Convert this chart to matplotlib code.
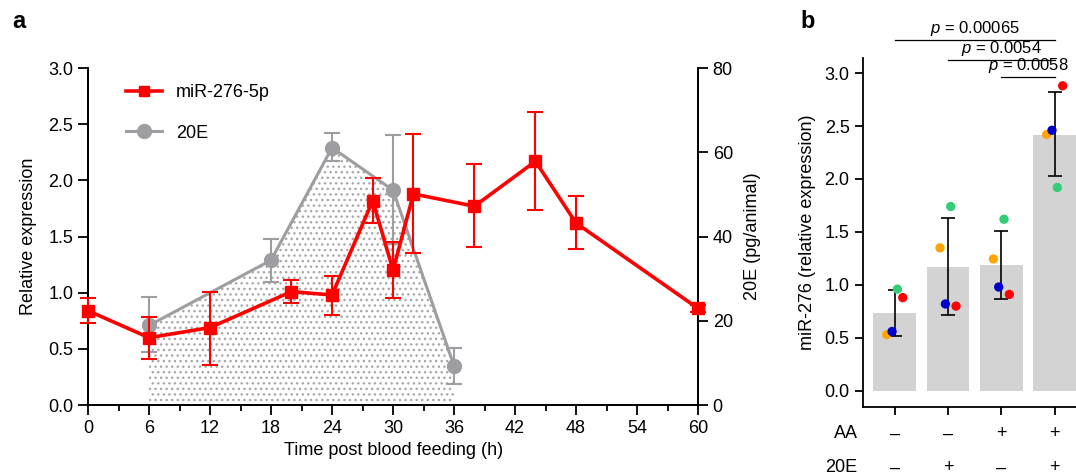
import numpy as np
import matplotlib
matplotlib.use('Agg')
import matplotlib.pyplot as plt
import matplotlib.transforms as mtransforms
from matplotlib.lines import Line2D

plt.rcParams['font.family'] = ['Liberation Sans', 'DejaVu Sans']
plt.rcParams['mathtext.fontset'] = 'custom'
plt.rcParams['mathtext.it'] = 'Liberation Sans:italic'
plt.rcParams['mathtext.rm'] = 'Liberation Sans'
plt.rcParams['hatch.linewidth'] = 1.0

# ==========================================
# Panel a: miR-276-5p time course (left axis) and 20E titre (right axis)
mir_t = [0, 6, 12, 20, 24, 28, 30, 32, 38, 44, 48, 60]
mir_val = [0.84, 0.60, 0.69, 1.01, 0.98, 1.82, 1.20, 1.88, 1.77, 2.17, 1.62, 0.86]
mir_lo = [0.73, 0.41, 0.36, 0.91, 0.80, 1.62, 0.95, 1.35, 1.41, 1.74, 1.39, 0.83]
mir_hi = [0.95, 0.78, 1.01, 1.11, 1.15, 2.02, 1.45, 2.41, 2.15, 2.61, 1.86, 0.89]

e20_t = [6, 18, 24, 30, 36]
e20_val = [18.9, 34.4, 61.1, 51.0, 9.3]
e20_lo = [12.5, 29.3, 57.9, 38.3, 5.1]
e20_hi = [25.6, 39.5, 64.5, 64.0, 13.6]

# Panel b: miR-276 after AA / 20E treatment
groups = [1, 2, 3, 4]
bar_mean = [0.73, 1.17, 1.19, 2.42]
bar_lo = [0.52, 0.72, 0.87, 2.03]
bar_hi = [0.95, 1.63, 1.51, 2.82]
rep_colors = ['#FFA500', '#0000CC', '#33CC77', '#FF0000']
rep_offsets = [-0.15, -0.05, 0.05, 0.15]
rep_values = [
    [0.53, 1.35, 1.245, 2.42],   # orange
    [0.56, 0.82, 0.98, 2.46],    # blue
    [0.96, 1.74, 1.62, 1.92],    # green
    [0.88, 0.80, 0.91, 2.88],    # red
]
aa_signs = ['\u2013', '\u2013', '+', '+']
e20_signs = ['\u2013', '+', '\u2013', '+']
pvals = [(1, 4, 3.31, '0.00065'), (2, 4, 3.125, '0.0054'), (3, 4, 2.96, '0.0058')]

RED = '#FF0000'
GRAY = '#9E9EA2'

fig = plt.figure(figsize=(10.76, 4.76), dpi=100)

# ---------- panel a ----------
ax = fig.add_axes([0.0818, 0.149, 0.567, 0.708])
ax2 = ax.twinx()

ax2.fill_between(e20_t, 0, e20_val, facecolor='white', edgecolor='#A8A8A8',
                 hatch='...', linewidth=0, zorder=1)
ax2.errorbar(e20_t, e20_val,
             yerr=[np.subtract(e20_val, e20_lo), np.subtract(e20_hi, e20_val)],
             color=GRAY, marker='o', markersize=10, linewidth=2.2,
             elinewidth=1.5, capsize=6, capthick=1.5, zorder=2)
ax2.set_ylim(0, 80)
ax2.set_yticks([0, 20, 40, 60, 80])
ax2.set_ylabel('20E (pg/animal)', fontsize=13, labelpad=8)

ax.set_zorder(ax2.get_zorder() + 1)
ax.patch.set_visible(False)
ax.errorbar(mir_t, mir_val,
            yerr=[np.subtract(mir_val, mir_lo), np.subtract(mir_hi, mir_val)],
            color=RED, marker='s', markersize=9, linewidth=2.6,
            elinewidth=1.5, capsize=6, capthick=1.5, clip_on=False, zorder=3)
ax.set_xlim(0, 60)
ax.set_ylim(0, 3.0)
ax.set_xticks(np.arange(0, 61, 6))
ax.set_xticks(np.arange(0, 61, 3), minor=True)
ax.set_yticks(np.arange(0, 3.01, 0.5))
ax.set_yticklabels(['%.1f' % v for v in np.arange(0, 3.01, 0.5)])
ax.set_xlabel('Time post blood feeding (h)', fontsize=13)
ax.set_ylabel('Relative expression', fontsize=13, labelpad=8)

for a in (ax, ax2):
    a.spines['top'].set_visible(False)
    a.tick_params(labelsize=13, width=1.3, length=7)
    a.tick_params(which='minor', width=1.3, length=4)
    for s in a.spines.values():
        s.set_linewidth(1.3)

handles = [Line2D([], [], color=RED, marker='s', markersize=7, linewidth=2.6),
           Line2D([], [], color=GRAY, marker='o', markersize=10, linewidth=2.2)]
ax.legend(handles, ['miR-276-5p', '20E'], loc='upper left', bbox_to_anchor=(0.035, 1.0),
          frameon=False, fontsize=13, labelspacing=1.3, handlelength=2.0)

fig.text(0.011, 0.955, 'a', fontsize=17, fontweight='bold', va='center')

# ---------- panel b ----------
bx = fig.add_axes([0.8018, 0.1456, 0.2081, 0.732])
bx.bar(groups, bar_mean, width=0.8, color='#D3D3D3', zorder=1)
bx.errorbar(groups, bar_mean,
            yerr=[np.subtract(bar_mean, bar_lo), np.subtract(bar_hi, bar_mean)],
            fmt='none', ecolor='black', elinewidth=1.2, capsize=5, capthick=1.2,
            zorder=2)
for col, off, vals in zip(rep_colors, rep_offsets, rep_values):
    bx.scatter(np.array(groups) + off, vals, s=45, color=col, zorder=3,
               edgecolors='none')
bx.set_xlim(0.4, 4.6)
bx.set_ylim(-0.15, 3.14)
bx.set_yticks(np.arange(0, 3.01, 0.5))
bx.set_yticklabels(['%.1f' % v for v in np.arange(0, 3.01, 0.5)])
bx.set_xticks(groups)
bx.set_xticklabels([])
bx.set_ylabel('miR-276 (relative expression)', fontsize=13, labelpad=6)
for side in ('top', 'right'):
    bx.spines[side].set_visible(False)
for s in ('left', 'bottom'):
    bx.spines[s].set_linewidth(1.3)
bx.tick_params(labelsize=13, width=1.3, length=6)

for x0, x1, y, pv in pvals:
    bx.plot([x0, x1], [y, y], color='black', linewidth=0.9, clip_on=False)
    bx.text((x0 + x1) / 2, y + 0.02, r'$p$ = ' + pv, ha='center',
            va='bottom', fontsize=12, clip_on=False)

trans = mtransforms.blended_transform_factory(bx.transData, fig.transFigure)
fig.text(0.797, 1 - 434 / 476, 'AA', ha='right', va='center', fontsize=13)
fig.text(0.797, 1 - 468 / 476, '20E', ha='right', va='center', fontsize=13)
for g, s1, s2 in zip(groups, aa_signs, e20_signs):
    bx.text(g, 1 - 434 / 476, s1, transform=trans, ha='center', va='center', fontsize=13)
    bx.text(g, 1 - 468 / 476, s2, transform=trans, ha='center', va='center', fontsize=13)

fig.text(0.744, 0.955, 'b', fontsize=17, fontweight='bold', va='center')

fig.savefig('out.png', dpi=100)
